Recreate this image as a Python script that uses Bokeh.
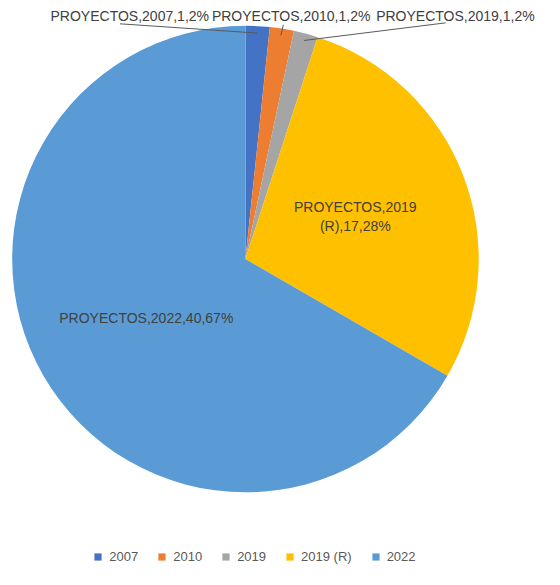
import math
from bokeh.plotting import figure
from bokeh.models import Range1d, Legend, LegendItem, ColumnDataSource
from bokeh.core.properties import value
from bokeh.embed import file_html
from bokeh.resources import INLINE

series_name = "PROYECTOS"
categories = ["2007", "2010", "2019", "2019 (R)", "2022"]
values = [1, 1, 1, 17, 40]
colors = ["#4472C4", "#ED7D31", "#A5A5A5", "#FFC000", "#5B9BD5"]

W, H = 544, 569
S = 0.972  # layout scale (reference pixel -> figure pixel)


def X(px):
    return px * S


def Y(py):
    return H - py * S


CX, CY, R = X(252), Y(266), 240 * S
FONT = "Liberation Sans"
LBL_SIZE = "14px"

total = sum(values)
starts, ends, mids, labels = [], [], [], []
cum = 0
for c, v in zip(categories, values):
    a0 = math.pi / 2 - 2 * math.pi * cum / total
    cum += v
    a1 = math.pi / 2 - 2 * math.pi * cum / total
    starts.append(a0)
    ends.append(a1)
    mids.append((a0 + a1) / 2)
    labels.append(f"{series_name},{c},{v},{round(100 * v / total)}%")

src = ColumnDataSource(dict(cat=categories, val=values, color=colors,
                            start=starts, end=ends))

p = figure(width=W, height=H, output_backend="svg", toolbar_location=None,
           x_range=Range1d(0, W), y_range=Range1d(0, H), min_border=0,
           outline_line_color=None)
p.axis.visible = False
p.grid.visible = False

wr = p.wedge(x=CX, y=CY, radius=R, start_angle="start", end_angle="end",
             direction="clock", fill_color="color", line_color=None, source=src)

# outside labels for the three small slices (in a row above the pie)
top_x = [X(133), X(299), X(468)]
top_y = Y(16)
line_start = [(X(123), Y(24)), (X(291), Y(25)), (X(458), Y(23))]
for i in range(3):
    ex = CX + (R - 7) * math.cos(mids[i])
    ey = CY + (R - 7) * math.sin(mids[i])
    sx, sy = line_start[i]
    p.line([sx, ex], [sy, ey], line_color="#595959", line_width=1)
p.text(x=top_x, y=[top_y] * 3, text=labels[:3], text_align="center",
       text_baseline="middle", text_font=value(FONT), text_font_size=LBL_SIZE,
       text_color="#404040")

# inside labels
lab3 = labels[3].replace(categories[3], "2019\n(R)")
p.text(x=[X(365)], y=[Y(222.5)], text=[lab3], text_align="center",
       text_baseline="middle", text_font=value(FONT), text_font_size=LBL_SIZE,
       text_color="#404040", text_line_height=1.2)
p.text(x=[X(150)], y=[Y(327)], text=[labels[4]], text_align="center",
       text_baseline="middle", text_font=value(FONT), text_font_size=LBL_SIZE,
       text_color="#404040")

legend = Legend(
    items=[LegendItem(label=c, renderers=[wr], index=i) for i, c in enumerate(categories)],
    orientation="horizontal", location=(X(96), 5),
    glyph_width=9, glyph_height=9, label_standoff=7, spacing=19,
    padding=0, margin=0, border_line_alpha=0, background_fill_alpha=0,
    label_text_font=FONT, label_text_font_size="13px",
    label_text_color="#595959", label_height=9,
)
p.add_layout(legend)

open("out.html", "w").write(file_html(p, INLINE))
